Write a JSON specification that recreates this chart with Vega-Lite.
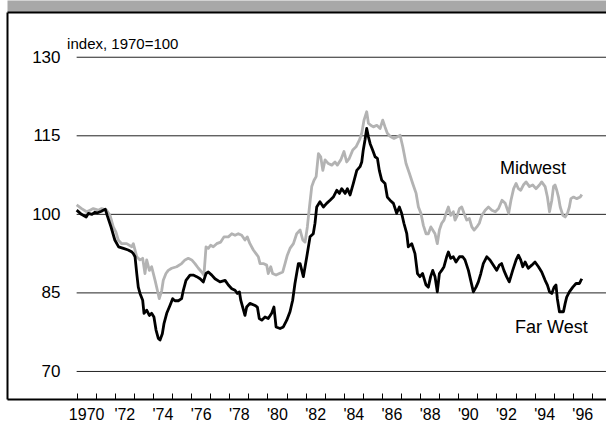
{
  "$schema": "https://vega.github.io/schema/vega-lite/v6.json",
  "width": 599,
  "height": 387,
  "autosize": {"type": "none"},
  "padding": {"left": 7, "top": 12, "right": 0, "bottom": 23},
  "background": "white",
  "config": {"view": {"stroke": null}, "font": "Liberation Sans"},
  "resolve": {"axis": {"x": "independent", "y": "independent"}},
  "datasets": {
    "grid": [{"v": 70}, {"v": 85}, {"v": 100}, {"v": 115}, {"v": 130}],
    "labels": [
      {"label": "index, 1970=100", "year": 1969.5, "value": 132.6, "size": "small"},
      {"label": "Midwest", "year": 1992.19, "value": 108.6, "size": "big"},
      {"label": "Far West", "year": 1992.97, "value": 78.25, "size": "big"}
    ],
    "series": [
      {"region":"Midwest","year":1970.00,"value":101.8},
      {"region":"Midwest","year":1970.26,"value":101.1},
      {"region":"Midwest","year":1970.52,"value":100.5},
      {"region":"Midwest","year":1970.70,"value":100.8},
      {"region":"Midwest","year":1970.87,"value":101.1},
      {"region":"Midwest","year":1971.13,"value":100.8},
      {"region":"Midwest","year":1971.31,"value":101.1},
      {"region":"Midwest","year":1971.57,"value":100.8},
      {"region":"Midwest","year":1971.75,"value":99.8},
      {"region":"Midwest","year":1971.92,"value":97.6},
      {"region":"Midwest","year":1972.06,"value":96.6},
      {"region":"Midwest","year":1972.18,"value":95.1},
      {"region":"Midwest","year":1972.36,"value":94.4},
      {"region":"Midwest","year":1972.62,"value":94.4},
      {"region":"Midwest","year":1972.89,"value":93.8},
      {"region":"Midwest","year":1972.97,"value":94.4},
      {"region":"Midwest","year":1973.15,"value":91.9},
      {"region":"Midwest","year":1973.32,"value":91.3},
      {"region":"Midwest","year":1973.46,"value":91.6},
      {"region":"Midwest","year":1973.58,"value":88.7},
      {"region":"Midwest","year":1973.67,"value":91.3},
      {"region":"Midwest","year":1973.81,"value":89.3},
      {"region":"Midwest","year":1973.93,"value":90.0},
      {"region":"Midwest","year":1974.11,"value":87.4},
      {"region":"Midwest","year":1974.23,"value":85.5},
      {"region":"Midwest","year":1974.33,"value":83.9},
      {"region":"Midwest","year":1974.46,"value":85.5},
      {"region":"Midwest","year":1974.54,"value":87.4},
      {"region":"Midwest","year":1974.68,"value":88.7},
      {"region":"Midwest","year":1974.80,"value":89.3},
      {"region":"Midwest","year":1974.98,"value":89.7},
      {"region":"Midwest","year":1975.24,"value":90.0},
      {"region":"Midwest","year":1975.50,"value":90.6},
      {"region":"Midwest","year":1975.68,"value":91.3},
      {"region":"Midwest","year":1975.85,"value":91.6},
      {"region":"Midwest","year":1976.03,"value":91.3},
      {"region":"Midwest","year":1976.20,"value":90.6},
      {"region":"Midwest","year":1976.38,"value":89.7},
      {"region":"Midwest","year":1976.55,"value":89.0},
      {"region":"Midwest","year":1976.67,"value":88.4},
      {"region":"Midwest","year":1976.78,"value":93.8},
      {"region":"Midwest","year":1976.90,"value":93.5},
      {"region":"Midwest","year":1977.02,"value":94.1},
      {"region":"Midwest","year":1977.16,"value":93.8},
      {"region":"Midwest","year":1977.34,"value":94.4},
      {"region":"Midwest","year":1977.55,"value":94.7},
      {"region":"Midwest","year":1977.72,"value":95.7},
      {"region":"Midwest","year":1977.95,"value":95.7},
      {"region":"Midwest","year":1978.13,"value":96.3},
      {"region":"Midwest","year":1978.30,"value":96.0},
      {"region":"Midwest","year":1978.47,"value":96.3},
      {"region":"Midwest","year":1978.65,"value":96.0},
      {"region":"Midwest","year":1978.82,"value":95.1},
      {"region":"Midwest","year":1978.94,"value":95.7},
      {"region":"Midwest","year":1979.08,"value":94.4},
      {"region":"Midwest","year":1979.26,"value":93.2},
      {"region":"Midwest","year":1979.40,"value":92.5},
      {"region":"Midwest","year":1979.52,"value":91.9},
      {"region":"Midwest","year":1979.61,"value":90.6},
      {"region":"Midwest","year":1979.78,"value":90.6},
      {"region":"Midwest","year":1979.96,"value":90.3},
      {"region":"Midwest","year":1980.04,"value":88.7},
      {"region":"Midwest","year":1980.17,"value":90.0},
      {"region":"Midwest","year":1980.27,"value":88.7},
      {"region":"Midwest","year":1980.45,"value":88.4},
      {"region":"Midwest","year":1980.62,"value":88.7},
      {"region":"Midwest","year":1980.80,"value":89.0},
      {"region":"Midwest","year":1980.92,"value":90.6},
      {"region":"Midwest","year":1981.04,"value":92.2},
      {"region":"Midwest","year":1981.18,"value":93.5},
      {"region":"Midwest","year":1981.36,"value":94.4},
      {"region":"Midwest","year":1981.53,"value":96.3},
      {"region":"Midwest","year":1981.71,"value":97.0},
      {"region":"Midwest","year":1981.85,"value":95.1},
      {"region":"Midwest","year":1981.97,"value":94.7},
      {"region":"Midwest","year":1982.09,"value":97.6},
      {"region":"Midwest","year":1982.20,"value":101.4},
      {"region":"Midwest","year":1982.32,"value":105.3},
      {"region":"Midwest","year":1982.44,"value":106.5},
      {"region":"Midwest","year":1982.55,"value":107.2},
      {"region":"Midwest","year":1982.67,"value":111.6},
      {"region":"Midwest","year":1982.79,"value":111.0},
      {"region":"Midwest","year":1982.90,"value":108.4},
      {"region":"Midwest","year":1983.02,"value":110.4},
      {"region":"Midwest","year":1983.19,"value":109.7},
      {"region":"Midwest","year":1983.37,"value":109.4},
      {"region":"Midwest","year":1983.54,"value":110.0},
      {"region":"Midwest","year":1983.66,"value":109.4},
      {"region":"Midwest","year":1983.84,"value":110.4},
      {"region":"Midwest","year":1984.01,"value":112.0},
      {"region":"Midwest","year":1984.15,"value":110.0},
      {"region":"Midwest","year":1984.29,"value":110.7},
      {"region":"Midwest","year":1984.47,"value":112.3},
      {"region":"Midwest","year":1984.64,"value":112.9},
      {"region":"Midwest","year":1984.82,"value":114.2},
      {"region":"Midwest","year":1984.94,"value":115.5},
      {"region":"Midwest","year":1985.06,"value":118.0},
      {"region":"Midwest","year":1985.20,"value":119.6},
      {"region":"Midwest","year":1985.29,"value":117.4},
      {"region":"Midwest","year":1985.41,"value":117.0},
      {"region":"Midwest","year":1985.55,"value":116.7},
      {"region":"Midwest","year":1985.73,"value":117.0},
      {"region":"Midwest","year":1985.90,"value":116.4},
      {"region":"Midwest","year":1986.04,"value":118.0},
      {"region":"Midwest","year":1986.16,"value":116.7},
      {"region":"Midwest","year":1986.28,"value":115.5},
      {"region":"Midwest","year":1986.46,"value":114.8},
      {"region":"Midwest","year":1986.63,"value":114.5},
      {"region":"Midwest","year":1986.81,"value":114.8},
      {"region":"Midwest","year":1986.95,"value":115.1},
      {"region":"Midwest","year":1987.09,"value":112.9},
      {"region":"Midwest","year":1987.26,"value":109.7},
      {"region":"Midwest","year":1987.44,"value":107.8},
      {"region":"Midwest","year":1987.61,"value":105.9},
      {"region":"Midwest","year":1987.79,"value":104.0},
      {"region":"Midwest","year":1987.91,"value":101.4},
      {"region":"Midwest","year":1988.04,"value":100.2},
      {"region":"Midwest","year":1988.17,"value":97.9},
      {"region":"Midwest","year":1988.31,"value":96.3},
      {"region":"Midwest","year":1988.43,"value":96.3},
      {"region":"Midwest","year":1988.56,"value":97.6},
      {"region":"Midwest","year":1988.66,"value":97.0},
      {"region":"Midwest","year":1988.78,"value":96.3},
      {"region":"Midwest","year":1988.90,"value":94.4},
      {"region":"Midwest","year":1989.01,"value":97.0},
      {"region":"Midwest","year":1989.13,"value":98.3},
      {"region":"Midwest","year":1989.25,"value":98.9},
      {"region":"Midwest","year":1989.36,"value":100.2},
      {"region":"Midwest","year":1989.48,"value":101.4},
      {"region":"Midwest","year":1989.60,"value":99.8},
      {"region":"Midwest","year":1989.74,"value":100.5},
      {"region":"Midwest","year":1989.83,"value":98.9},
      {"region":"Midwest","year":1989.95,"value":99.8},
      {"region":"Midwest","year":1990.06,"value":101.1},
      {"region":"Midwest","year":1990.18,"value":101.4},
      {"region":"Midwest","year":1990.30,"value":100.2},
      {"region":"Midwest","year":1990.44,"value":98.9},
      {"region":"Midwest","year":1990.58,"value":99.2},
      {"region":"Midwest","year":1990.71,"value":97.6},
      {"region":"Midwest","year":1990.83,"value":97.0},
      {"region":"Midwest","year":1990.97,"value":97.6},
      {"region":"Midwest","year":1991.10,"value":98.3},
      {"region":"Midwest","year":1991.23,"value":99.8},
      {"region":"Midwest","year":1991.41,"value":100.8},
      {"region":"Midwest","year":1991.58,"value":101.4},
      {"region":"Midwest","year":1991.76,"value":100.8},
      {"region":"Midwest","year":1991.94,"value":100.5},
      {"region":"Midwest","year":1992.11,"value":101.1},
      {"region":"Midwest","year":1992.29,"value":102.7},
      {"region":"Midwest","year":1992.46,"value":102.1},
      {"region":"Midwest","year":1992.64,"value":100.2},
      {"region":"Midwest","year":1992.76,"value":102.7},
      {"region":"Midwest","year":1992.90,"value":104.9},
      {"region":"Midwest","year":1993.03,"value":105.9},
      {"region":"Midwest","year":1993.15,"value":104.9},
      {"region":"Midwest","year":1993.27,"value":104.6},
      {"region":"Midwest","year":1993.41,"value":105.6},
      {"region":"Midwest","year":1993.55,"value":106.2},
      {"region":"Midwest","year":1993.73,"value":105.3},
      {"region":"Midwest","year":1993.90,"value":105.6},
      {"region":"Midwest","year":1994.07,"value":104.9},
      {"region":"Midwest","year":1994.25,"value":105.6},
      {"region":"Midwest","year":1994.37,"value":106.2},
      {"region":"Midwest","year":1994.55,"value":105.3},
      {"region":"Midwest","year":1994.67,"value":103.3},
      {"region":"Midwest","year":1994.78,"value":100.5},
      {"region":"Midwest","year":1994.90,"value":102.7},
      {"region":"Midwest","year":1994.99,"value":105.3},
      {"region":"Midwest","year":1995.07,"value":105.6},
      {"region":"Midwest","year":1995.16,"value":104.6},
      {"region":"Midwest","year":1995.25,"value":103.3},
      {"region":"Midwest","year":1995.34,"value":101.4},
      {"region":"Midwest","year":1995.48,"value":99.8},
      {"region":"Midwest","year":1995.60,"value":99.5},
      {"region":"Midwest","year":1995.72,"value":100.2},
      {"region":"Midwest","year":1995.82,"value":101.4},
      {"region":"Midwest","year":1995.90,"value":103.0},
      {"region":"Midwest","year":1996.04,"value":103.3},
      {"region":"Midwest","year":1996.21,"value":103.0},
      {"region":"Midwest","year":1996.39,"value":103.3},
      {"region":"Midwest","year":1996.47,"value":103.8},
      {"region":"Far West","year":1970.00,"value":100.8},
      {"region":"Far West","year":1970.25,"value":100.0},
      {"region":"Far West","year":1970.50,"value":99.5},
      {"region":"Far West","year":1970.62,"value":100.2},
      {"region":"Far West","year":1970.80,"value":100.0},
      {"region":"Far West","year":1970.95,"value":100.4},
      {"region":"Far West","year":1971.10,"value":100.3},
      {"region":"Far West","year":1971.30,"value":100.6},
      {"region":"Far West","year":1971.50,"value":101.0},
      {"region":"Far West","year":1971.60,"value":99.8},
      {"region":"Far West","year":1971.80,"value":97.6},
      {"region":"Far West","year":1972.00,"value":95.1},
      {"region":"Far West","year":1972.20,"value":93.8},
      {"region":"Far West","year":1972.45,"value":93.5},
      {"region":"Far West","year":1972.70,"value":93.2},
      {"region":"Far West","year":1972.90,"value":92.8},
      {"region":"Far West","year":1972.97,"value":92.5},
      {"region":"Far West","year":1973.06,"value":91.9},
      {"region":"Far West","year":1973.15,"value":88.7},
      {"region":"Far West","year":1973.23,"value":86.1},
      {"region":"Far West","year":1973.32,"value":84.9},
      {"region":"Far West","year":1973.46,"value":83.6},
      {"region":"Far West","year":1973.53,"value":81.1},
      {"region":"Far West","year":1973.67,"value":81.7},
      {"region":"Far West","year":1973.81,"value":80.7},
      {"region":"Far West","year":1973.93,"value":81.1},
      {"region":"Far West","year":1974.05,"value":80.4},
      {"region":"Far West","year":1974.16,"value":77.9},
      {"region":"Far West","year":1974.28,"value":76.3},
      {"region":"Far West","year":1974.37,"value":76.0},
      {"region":"Far West","year":1974.49,"value":77.2},
      {"region":"Far West","year":1974.58,"value":79.2},
      {"region":"Far West","year":1974.72,"value":81.1},
      {"region":"Far West","year":1974.89,"value":82.6},
      {"region":"Far West","year":1975.03,"value":83.9},
      {"region":"Far West","year":1975.15,"value":83.5},
      {"region":"Far West","year":1975.33,"value":83.5},
      {"region":"Far West","year":1975.50,"value":83.9},
      {"region":"Far West","year":1975.59,"value":85.5},
      {"region":"Far West","year":1975.73,"value":87.4},
      {"region":"Far West","year":1975.94,"value":88.4},
      {"region":"Far West","year":1976.11,"value":88.4},
      {"region":"Far West","year":1976.29,"value":88.1},
      {"region":"Far West","year":1976.47,"value":87.7},
      {"region":"Far West","year":1976.64,"value":87.1},
      {"region":"Far West","year":1976.78,"value":88.7},
      {"region":"Far West","year":1976.90,"value":89.0},
      {"region":"Far West","year":1977.08,"value":88.4},
      {"region":"Far West","year":1977.25,"value":87.7},
      {"region":"Far West","year":1977.51,"value":87.1},
      {"region":"Far West","year":1977.78,"value":87.4},
      {"region":"Far West","year":1977.95,"value":86.5},
      {"region":"Far West","year":1978.13,"value":85.8},
      {"region":"Far West","year":1978.30,"value":85.5},
      {"region":"Far West","year":1978.42,"value":84.9},
      {"region":"Far West","year":1978.53,"value":85.2},
      {"region":"Far West","year":1978.60,"value":83.6},
      {"region":"Far West","year":1978.70,"value":82.3},
      {"region":"Far West","year":1978.82,"value":80.7},
      {"region":"Far West","year":1978.91,"value":82.3},
      {"region":"Far West","year":1979.08,"value":83.0},
      {"region":"Far West","year":1979.35,"value":82.6},
      {"region":"Far West","year":1979.47,"value":82.3},
      {"region":"Far West","year":1979.57,"value":80.1},
      {"region":"Far West","year":1979.70,"value":79.8},
      {"region":"Far West","year":1979.87,"value":80.4},
      {"region":"Far West","year":1980.04,"value":80.1},
      {"region":"Far West","year":1980.22,"value":81.1},
      {"region":"Far West","year":1980.34,"value":82.3},
      {"region":"Far West","year":1980.45,"value":78.5},
      {"region":"Far West","year":1980.66,"value":78.2},
      {"region":"Far West","year":1980.83,"value":78.5},
      {"region":"Far West","year":1981.01,"value":79.8},
      {"region":"Far West","year":1981.18,"value":81.4},
      {"region":"Far West","year":1981.32,"value":83.6},
      {"region":"Far West","year":1981.44,"value":86.8},
      {"region":"Far West","year":1981.62,"value":90.6},
      {"region":"Far West","year":1981.71,"value":90.6},
      {"region":"Far West","year":1981.88,"value":88.1},
      {"region":"Far West","year":1982.06,"value":91.9},
      {"region":"Far West","year":1982.23,"value":95.7},
      {"region":"Far West","year":1982.40,"value":96.3},
      {"region":"Far West","year":1982.49,"value":98.3},
      {"region":"Far West","year":1982.58,"value":101.4},
      {"region":"Far West","year":1982.75,"value":102.4},
      {"region":"Far West","year":1982.93,"value":101.4},
      {"region":"Far West","year":1983.10,"value":102.1},
      {"region":"Far West","year":1983.28,"value":102.7},
      {"region":"Far West","year":1983.45,"value":103.3},
      {"region":"Far West","year":1983.63,"value":104.6},
      {"region":"Far West","year":1983.77,"value":104.0},
      {"region":"Far West","year":1983.89,"value":104.9},
      {"region":"Far West","year":1984.07,"value":104.0},
      {"region":"Far West","year":1984.19,"value":104.9},
      {"region":"Far West","year":1984.33,"value":103.7},
      {"region":"Far West","year":1984.50,"value":105.9},
      {"region":"Far West","year":1984.68,"value":108.4},
      {"region":"Far West","year":1984.85,"value":109.1},
      {"region":"Far West","year":1984.94,"value":110.0},
      {"region":"Far West","year":1985.02,"value":112.3},
      {"region":"Far West","year":1985.11,"value":114.2},
      {"region":"Far West","year":1985.20,"value":116.4},
      {"region":"Far West","year":1985.29,"value":114.8},
      {"region":"Far West","year":1985.38,"value":113.5},
      {"region":"Far West","year":1985.51,"value":112.3},
      {"region":"Far West","year":1985.64,"value":111.0},
      {"region":"Far West","year":1985.76,"value":110.7},
      {"region":"Far West","year":1985.86,"value":108.4},
      {"region":"Far West","year":1985.99,"value":106.5},
      {"region":"Far West","year":1986.16,"value":105.9},
      {"region":"Far West","year":1986.28,"value":103.3},
      {"region":"Far West","year":1986.42,"value":102.7},
      {"region":"Far West","year":1986.60,"value":102.1},
      {"region":"Far West","year":1986.77,"value":100.2},
      {"region":"Far West","year":1986.91,"value":101.4},
      {"region":"Far West","year":1987.03,"value":100.2},
      {"region":"Far West","year":1987.15,"value":98.3},
      {"region":"Far West","year":1987.30,"value":96.3},
      {"region":"Far West","year":1987.38,"value":93.8},
      {"region":"Far West","year":1987.56,"value":94.4},
      {"region":"Far West","year":1987.73,"value":92.5},
      {"region":"Far West","year":1987.86,"value":88.7},
      {"region":"Far West","year":1987.99,"value":88.1},
      {"region":"Far West","year":1988.13,"value":88.7},
      {"region":"Far West","year":1988.31,"value":86.5},
      {"region":"Far West","year":1988.43,"value":86.1},
      {"region":"Far West","year":1988.55,"value":88.1},
      {"region":"Far West","year":1988.66,"value":89.3},
      {"region":"Far West","year":1988.78,"value":88.1},
      {"region":"Far West","year":1988.90,"value":85.2},
      {"region":"Far West","year":1989.01,"value":88.7},
      {"region":"Far West","year":1989.13,"value":89.3},
      {"region":"Far West","year":1989.25,"value":90.0},
      {"region":"Far West","year":1989.39,"value":91.9},
      {"region":"Far West","year":1989.48,"value":92.8},
      {"region":"Far West","year":1989.60,"value":91.6},
      {"region":"Far West","year":1989.74,"value":91.9},
      {"region":"Far West","year":1989.88,"value":90.9},
      {"region":"Far West","year":1990.06,"value":91.9},
      {"region":"Far West","year":1990.23,"value":91.9},
      {"region":"Far West","year":1990.35,"value":91.3},
      {"region":"Far West","year":1990.53,"value":89.3},
      {"region":"Far West","year":1990.65,"value":87.4},
      {"region":"Far West","year":1990.79,"value":85.2},
      {"region":"Far West","year":1990.93,"value":86.1},
      {"region":"Far West","year":1991.05,"value":87.1},
      {"region":"Far West","year":1991.18,"value":88.7},
      {"region":"Far West","year":1991.31,"value":90.6},
      {"region":"Far West","year":1991.49,"value":91.9},
      {"region":"Far West","year":1991.66,"value":91.3},
      {"region":"Far West","year":1991.84,"value":90.3},
      {"region":"Far West","year":1992.01,"value":89.3},
      {"region":"Far West","year":1992.15,"value":90.3},
      {"region":"Far West","year":1992.27,"value":90.6},
      {"region":"Far West","year":1992.39,"value":89.3},
      {"region":"Far West","year":1992.53,"value":88.1},
      {"region":"Far West","year":1992.67,"value":87.1},
      {"region":"Far West","year":1992.85,"value":89.3},
      {"region":"Far West","year":1993.03,"value":91.3},
      {"region":"Far West","year":1993.15,"value":92.2},
      {"region":"Far West","year":1993.27,"value":91.3},
      {"region":"Far West","year":1993.38,"value":90.0},
      {"region":"Far West","year":1993.50,"value":90.9},
      {"region":"Far West","year":1993.67,"value":89.7},
      {"region":"Far West","year":1993.85,"value":90.3},
      {"region":"Far West","year":1994.02,"value":90.9},
      {"region":"Far West","year":1994.20,"value":90.0},
      {"region":"Far West","year":1994.37,"value":89.0},
      {"region":"Far West","year":1994.55,"value":87.4},
      {"region":"Far West","year":1994.67,"value":86.5},
      {"region":"Far West","year":1994.78,"value":85.2},
      {"region":"Far West","year":1994.90,"value":84.9},
      {"region":"Far West","year":1995.02,"value":86.1},
      {"region":"Far West","year":1995.12,"value":86.5},
      {"region":"Far West","year":1995.19,"value":83.9},
      {"region":"Far West","year":1995.30,"value":81.4},
      {"region":"Far West","year":1995.51,"value":81.4},
      {"region":"Far West","year":1995.60,"value":83.0},
      {"region":"Far West","year":1995.68,"value":84.2},
      {"region":"Far West","year":1995.82,"value":85.2},
      {"region":"Far West","year":1996.00,"value":86.1},
      {"region":"Far West","year":1996.17,"value":86.8},
      {"region":"Far West","year":1996.35,"value":86.8},
      {"region":"Far West","year":1996.47,"value":87.7}
    ]
  },
  "layer": [
    {
      "data": {"name": "grid"},
      "mark": {"type": "rule", "color": "#222222", "strokeWidth": 1},
      "encoding": {
        "x": {"datum": 1970, "type": "quantitative",
          "scale": {"domain": [1966.35, 1997.74], "nice": false, "zero": false},
          "axis": {"orient": "bottom", "values": [1970,1971,1972,1973,1974,1975,1976,1977,1978,1979,1980,1981,1982,1983,1984,1985,1986,1987,1988,1989,1990,1991,1992,1993,1994,1995,1996,1997],
            "domain": true, "domainColor": "#000000", "domainWidth": 2,
            "ticks": true, "tickSize": -6, "tickColor": "#000000", "tickWidth": 1,
            "grid": false, "title": null,
            "labelExpr": "datum.value == 1970 ? '1970' : ((datum.value % 2 == 0 && datum.value < 1997) ? \"'\" + slice(toString(datum.value), 2) : '')",
            "labelOffset": 9.5, "labelPadding": 13, "labelFontSize": 16, "labelColor": "#000000",
            "labelFont": "Liberation Sans", "labelFlush": false, "labelOverlap": false, "labelBound": false}},
        "x2": {"datum": 1997.74},
        "y": {"field": "v", "type": "quantitative",
          "scale": {"domain": [64.74, 138.64], "nice": false, "zero": false},
          "axis": {"orient": "left", "values": [70, 85, 100, 115, 130],
            "domain": true, "domainColor": "#000000", "domainWidth": 2,
            "ticks": false, "grid": false, "title": null,
            "labelAlign": "right", "labelPadding": -53, "labelFontSize": 17, "labelColor": "#000000",
            "labelFont": "Liberation Sans", "labelFlush": false, "labelOverlap": false, "labelBound": false}}
      }
    },
    {
      "data": {"name": "series"},
      "mark": {"type": "line", "strokeWidth": 2.8, "strokeJoin": "round"},
      "encoding": {
        "x": {"field": "year", "type": "quantitative",
          "axis": {"orient": "top", "domain": true, "domainColor": "#000000", "domainWidth": 2, "zindex": 2,
            "ticks": false, "labels": false, "grid": false, "title": null}},
        "y": {"field": "value", "type": "quantitative", "axis": null},
        "color": {"field": "region", "type": "nominal",
          "scale": {"domain": ["Midwest", "Far West"], "range": ["#b3b3b3", "#000000"]},
          "legend": null},
        "order": {"field": "year", "type": "quantitative"}
      }
    },
    {
      "data": {"name": "labels"},
      "mark": {"type": "text", "align": "left", "baseline": "middle", "font": "Liberation Sans", "color": "#000000"},
      "encoding": {
        "x": {"field": "year", "type": "quantitative",
          "axis": {"orient": "top", "offset": 6, "domain": true, "domainColor": "#a8a8a8", "domainWidth": 12, "zindex": 1,
            "ticks": false, "labels": false, "grid": false, "title": null}},
        "y": {"field": "value", "type": "quantitative", "axis": null},
        "text": {"field": "label"},
        "size": {"field": "size", "type": "nominal", "scale": {"domain": ["small", "big"], "range": [15, 18]}, "legend": null}
      }
    }
  ]
}
